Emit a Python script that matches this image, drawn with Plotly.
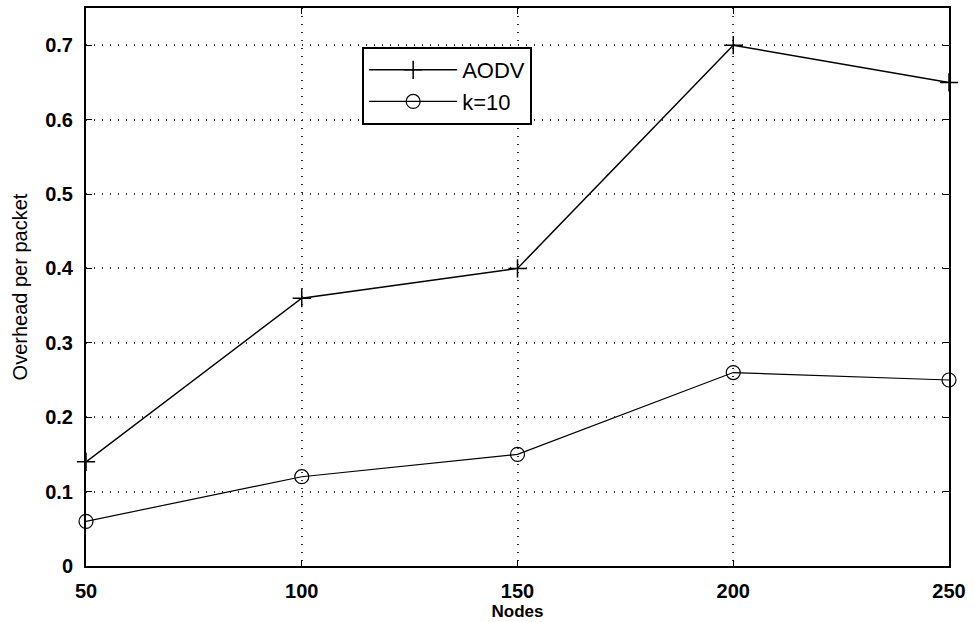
import plotly.graph_objects as go

nodes = [50, 100, 150, 200, 250]
aodv = [0.14, 0.36, 0.40, 0.70, 0.65]
k10 = [0.06, 0.12, 0.15, 0.26, 0.25]
x_ticks = [50, 100, 150, 200, 250]
y_ticks = [0, 0.1, 0.2, 0.3, 0.4, 0.5, 0.6, 0.7]
y_tick_labels = ["0", "0.1", "0.2", "0.3", "0.4", "0.5", "0.6", "0.7"]

fig = go.Figure()
fig.add_trace(go.Scatter(
    x=nodes, y=aodv, mode="lines+markers", name="AODV",
    line=dict(color="black", width=1.5),
    marker=dict(symbol="cross-thin", size=13, color="black",
                line=dict(color="black", width=1.5)),
    cliponaxis=False,
))
fig.add_trace(go.Scatter(
    x=nodes, y=k10, mode="lines+markers", name="k=10",
    line=dict(color="black", width=1.2),
    marker=dict(symbol="circle-open", size=14, color="black",
                line=dict(color="black", width=1.2)),
    cliponaxis=False,
))

tick_font = dict(family="Liberation Sans, Arial", size=20, color="black", weight="bold")
axis_common = dict(
    showline=True, linecolor="black", linewidth=2, mirror="ticks",
    ticks="inside", ticklen=6, tickcolor="black",
    showgrid=True, gridcolor="#333333", griddash="1px,7px", gridwidth=1.5,
    zeroline=False, automargin=False,
    tickfont=tick_font,
)

fig.update_xaxes(
    range=[50, 250], tickvals=x_ticks,
    ticklabelstandoff=6,
    title=dict(text="Nodes", font=dict(family="Liberation Sans, Arial", size=17,
                                       color="black", weight="bold"), standoff=4),
    **axis_common,
)
fig.update_yaxes(
    range=[0, 0.75], tickvals=y_ticks, ticktext=y_tick_labels,
    ticklabelstandoff=7,
    title=dict(text="Overhead per packet", font=dict(family="Liberation Sans, Arial",
                                                     size=20, color="black"), standoff=12),
    **axis_common,
)

fig.update_layout(
    width=974, height=622,
    margin=dict(l=86, r=25, t=8, b=56),
    paper_bgcolor="white", plot_bgcolor="white",
    showlegend=True,
    legend=dict(
        x=0.32, y=0.93, xanchor="left", yanchor="top",
        bgcolor="white", bordercolor="black", borderwidth=2,
        font=dict(family="Liberation Sans, Arial", size=22, color="black"),
        itemwidth=88, tracegroupgap=0,
    ),
)

fig.write_html("out.html")
